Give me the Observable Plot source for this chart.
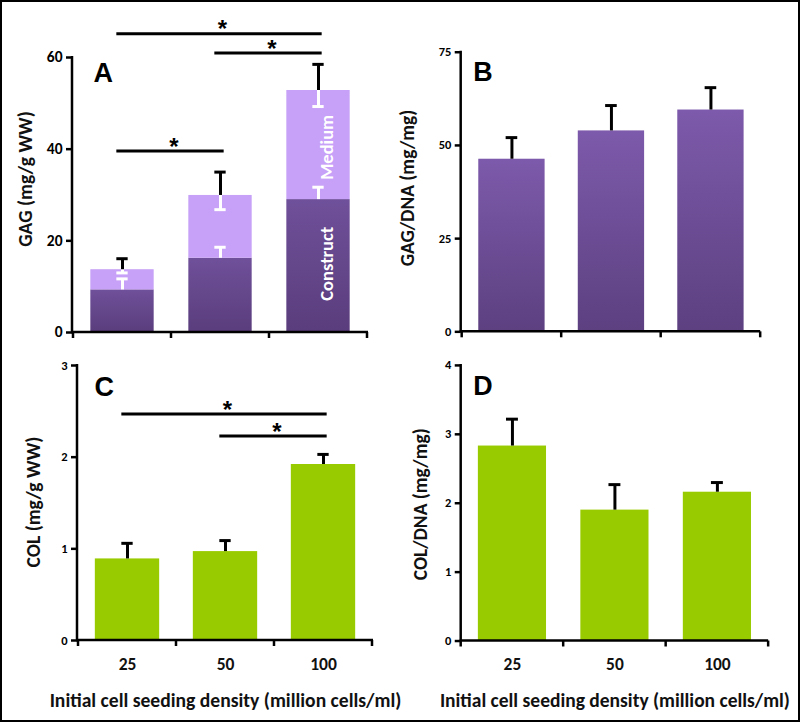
<!DOCTYPE html>
<html><head><meta charset="utf-8">
<script src="https://cdn.jsdelivr.net/npm/d3@7"></script>
<script src="https://cdn.jsdelivr.net/npm/@observablehq/plot@0.6"></script>
<style>
body{margin:0;background:#fff;}
#wrap{position:relative;width:800px;height:722px;box-sizing:border-box;border:2px solid #000;overflow:hidden;background:#fff;}
.panel{position:absolute;}
.panel svg{overflow:visible;}
</style></head><body><div id="wrap"></div>
<script>
// ---------- data ----------
const categories = ["25", "50", "100"];
// Panel A: GAG (mg/g WW)
const gagConstruct = [9.3, 16.2, 29.0];
const gagConstructErr = [11.7, 18.6, 31.7];
const gagTotal = [13.7, 29.9, 52.8];
const gagMediumErrLow = [13.0, 26.8, 49.3];
const gagTotalErr = [16.1, 35.0, 58.5];
const gagTicks = [0, 20, 40, 60];
const gagSig = [{from: 0, to: 2, y: 65.2}, {from: 1, to: 2, y: 61.0}, {from: 0, to: 1, y: 39.6}];
// Panel B: GAG/DNA (mg/mg)
const gagDna = [46.3, 53.9, 59.5];
const gagDnaErr = [52.1, 60.7, 65.5];
const gagDnaTicks = [0, 25, 50, 75];
// Panel C: COL (mg/g WW)
const col = [0.89, 0.97, 1.92];
const colErr = [1.06, 1.09, 2.03];
const colTicks = [0, 1, 2, 3];
const colSig = [{from: 0, to: 2, y: 2.47}, {from: 1, to: 2, y: 2.23}];
// Panel D: COL/DNA (mg/mg)
const colDna = [2.83, 1.90, 2.16];
const colDnaErr = [3.22, 2.27, 2.30];
const colDnaTicks = [0, 1, 2, 3, 4];

const xTitle = "Initial cell seeding density (million cells/ml)";
const FONT = "Carlito, Lato, 'Open Sans', sans-serif";
const wrap = document.getElementById("wrap");

function gradientDefs(id, top, bottom) {
  return () => {
    const defs = d3.create("svg:defs");
    const lg = defs.append("linearGradient").attr("id", id)
      .attr("x1", 0).attr("y1", 0).attr("x2", 0).attr("y2", 1);
    lg.append("stop").attr("offset", "0%").attr("stop-color", top);
    lg.append("stop").attr("offset", "100%").attr("stop-color", bottom);
    return defs.node();
  };
}

function axisLines(yMax) {
  return (index, scales, values, dims) => {
    const x = scales.x, y = scales.y;
    const bw = typeof x.bandwidth === "function" ? x.bandwidth() : x.bandwidth;
    const g = d3.create("svg:g").attr("stroke", "#000").attr("stroke-width", 2.5).attr("fill", "none");
    const left = dims.marginLeft, right = dims.width - dims.marginRight, y0 = y(0);
    g.append("line").attr("x1", left).attr("x2", left).attr("y1", y0).attr("y2", y(yMax) - 1);
    g.append("line").attr("x1", left - 1).attr("x2", right).attr("y1", y0).attr("y2", y0);
    const xs = categories.map(c => x(c)).concat([x(categories[categories.length - 1]) + bw]);
    xs.forEach(px => g.append("line").attr("x1", px).attr("x2", px).attr("y1", y0).attr("y2", y0 + 6));
    return g.node();
  };
}

function errorBar(rows, y1, y2, color, capAt, bw) {
  return [
    Plot.ruleX(rows, {x: "cat", y1, y2, stroke: color, strokeWidth: 3}),
    Plot.tickY(rows, {x: "cat", y: capAt, stroke: color, strokeWidth: 3, insetLeft: (bw - 12) / 2, insetRight: (bw - 12) / 2})
  ];
}

function sigMarks(sig, bw) {
  const marks = [];
  for (const s of sig) {
    marks.push(Plot.ruleY([s], {y: "y", x1: () => categories[s.from], x2: () => categories[s.to],
      stroke: "#000", strokeWidth: 3, insetLeft: bw / 2 - 6, insetRight: bw / 2 - 4}));
    const m = (s.from + s.to) / 2, fl = Math.floor(m);
    marks.push(Plot.text([s], {x: () => categories[fl], y: "y", text: () => "*", dx: (m - fl) * bw + 2, dy: -4,
      fontSize: 24, fontWeight: "bold", fontFamily: "'Liberation Sans', Arial, sans-serif", fill: "#000"}));
  }
  return marks;
}

function panel(cfg) {
  const bw = (cfg.width - cfg.marginLeft - cfg.marginRight) / categories.length;
  const inset = (bw - cfg.barW) / 2;
  const marks = [
    gradientDefs(cfg.gradId, cfg.gradTop, cfg.gradBottom),
    ...cfg.build(bw, inset),
    axisLines(cfg.ticks[cfg.ticks.length - 1]),
    Plot.axisY({ticks: cfg.ticks, tickFormat: d => String(d), tickSize: 6, tickPadding: 4, strokeWidth: 2.5, fontSize: cfg.tickFont,
      fontWeight: "bold", label: null, fill: "#000"}),
    Plot.text([cfg.letter], {frameAnchor: "top-left", dx: cfg.letterDx, dy: cfg.letterDy, textAnchor: "start",
      lineAnchor: "top", fontSize: 27, fontWeight: "bold", fontFamily: "'Liberation Sans', Arial, sans-serif", fill: "#000"}),
    Plot.text([cfg.yLabel], {frameAnchor: "left", rotate: -90, dx: cfg.yLabelDx, dy: cfg.yLabelDy,
      textAnchor: "middle", lineAnchor: "middle", fontSize: 19.5, fontWeight: "bold", fill: "#111"})
  ];
  if (cfg.bottom) {
    marks.push(Plot.axisX({tickSize: 0, tickPadding: 17, fontSize: 17.5, fontWeight: "bold", label: null, fill: "#111"}));
    marks.push(Plot.text([xTitle], {frameAnchor: "bottom", dy: 60, textAnchor: "middle", lineAnchor: "middle",
      fontSize: 19.6, fontWeight: "bold", fill: "#111"}));
  }
  const svg = Plot.plot({
    width: cfg.width, height: cfg.height,
    marginLeft: cfg.marginLeft, marginRight: cfg.marginRight, marginTop: cfg.marginTop, marginBottom: cfg.marginBottom,
    style: {fontFamily: FONT, background: "transparent", color: "#000"},
    x: {type: "band", domain: categories, padding: 0, axis: null, label: null},
    y: {domain: [0, cfg.ticks[cfg.ticks.length - 1]], axis: null, label: null},
    marks
  });
  const div = document.createElement("div");
  div.className = "panel";
  div.style.left = (cfg.left - 2) + "px";
  div.style.top = (cfg.top - 2) + "px";
  div.appendChild(svg);
  wrap.appendChild(div);
}

// Panel A
const rowsA = categories.map((c, i) => ({cat: c, construct: gagConstruct[i], constructErr: gagConstructErr[i],
  total: gagTotal[i], mediumLow: gagMediumErrLow[i], totalErr: gagTotalErr[i]}));
panel({
  left: 0, top: 0, width: 400, height: 350, marginLeft: 72, marginRight: 32, marginTop: 57, marginBottom: 18,
  ticks: gagTicks, tickFont: 15.5, barW: 64, letter: "A", letterDx: 21, letterDy: 5,
  yLabel: "GAG (mg/g WW)", yLabelDx: -47, yLabelDy: -16,
  gradId: "gA", gradTop: "#6f509a", gradBottom: "#5a3d7c",
  build: (bw, inset) => [
    Plot.barY(rowsA, {x: "cat", y1: 0, y2: "construct", fill: "url(#gA)", insetLeft: inset, insetRight: inset}),
    Plot.barY(rowsA, {x: "cat", y1: "construct", y2: "total", fill: "#c7a0f7", insetLeft: inset, insetRight: inset}),
    ...errorBar(rowsA, "construct", "constructErr", "#fff", "constructErr", bw),
    ...errorBar(rowsA, "mediumLow", "total", "#fff", "mediumLow", bw),
    ...errorBar(rowsA, "total", "totalErr", "#000", "totalErr", bw),
    Plot.text(["Medium"], {x: () => categories[2], y: () => 40.4, rotate: -90, dx: 9, fill: "#fff", fontSize: 18.5, fontWeight: "bold"}),
    Plot.text(["Construct"], {x: () => categories[2], y: () => 15.0, rotate: -90, dx: 9, fill: "#fff", fontSize: 18.5, fontWeight: "bold"}),
    ...sigMarks(gagSig, bw)
  ]
});

// Panel B
const rowsB = categories.map((c, i) => ({cat: c, v: gagDna[i], err: gagDnaErr[i]}));
panel({
  left: 400, top: 0, width: 400, height: 350, marginLeft: 61, marginRight: 38, marginTop: 52, marginBottom: 17,
  ticks: gagDnaTicks, tickFont: 12.5, barW: 67, letter: "B", letterDx: 12, letterDy: 10,
  yLabel: "GAG/DNA (mg/mg)", yLabelDx: -54, yLabelDy: -4,
  gradId: "gB", gradTop: "#7d5aab", gradBottom: "#5c4080",
  build: (bw, inset) => [
    Plot.barY(rowsB, {x: "cat", y: "v", fill: "url(#gB)", insetLeft: inset, insetRight: inset}),
    ...errorBar(rowsB, "v", "err", "#000", "err", bw)
  ]
});

// Panel C
const rowsC = categories.map((c, i) => ({cat: c, v: col[i], err: colErr[i]}));
panel({
  left: 0, top: 350, width: 400, height: 372, marginLeft: 77, marginRight: 27, marginTop: 15, marginBottom: 82,
  ticks: colTicks, tickFont: 12.5, barW: 65, letter: "C", letterDx: 17, letterDy: 11,
  yLabel: "COL (mg/g WW)", yLabelDx: -44, yLabelDy: -1, bottom: true,
  gradId: "gC", gradTop: "#99cc00", gradBottom: "#99cc00",
  build: (bw, inset) => [
    Plot.barY(rowsC, {x: "cat", y: "v", fill: "#99cc00", insetLeft: inset, insetRight: inset}),
    ...errorBar(rowsC, "v", "err", "#000", "err", bw),
    ...sigMarks(colSig, bw)
  ]
});

// Panel D
const rowsD = categories.map((c, i) => ({cat: c, v: colDna[i], err: colDnaErr[i]}));
panel({
  left: 400, top: 350, width: 400, height: 372, marginLeft: 61, marginRight: 30, marginTop: 15, marginBottom: 80,
  ticks: colDnaTicks, tickFont: 12.5, barW: 68.5, letter: "D", letterDx: 12, letterDy: 11,
  yLabel: "COL/DNA (mg/mg)", yLabelDx: -41, yLabelDy: 1, bottom: true,
  gradId: "gD", gradTop: "#99cc00", gradBottom: "#99cc00",
  build: (bw, inset) => [
    Plot.barY(rowsD, {x: "cat", y: "v", fill: "#99cc00", insetLeft: inset, insetRight: inset}),
    ...errorBar(rowsD, "v", "err", "#000", "err", bw)
  ]
});
</script>
</body></html>
